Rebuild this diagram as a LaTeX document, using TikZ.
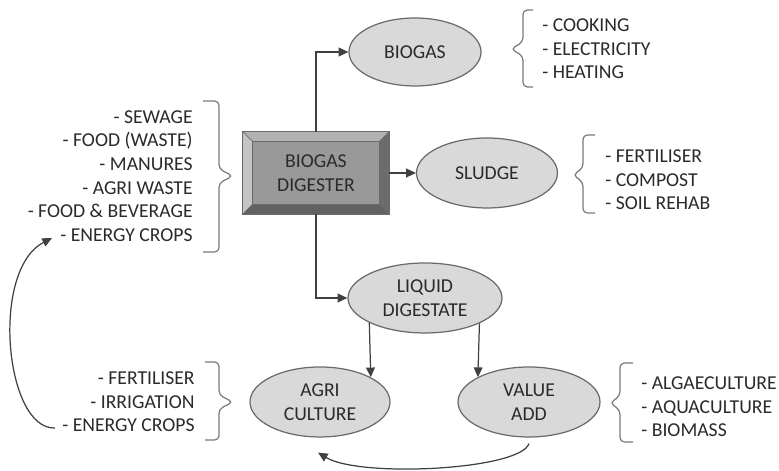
\documentclass[tikz,border=0pt]{standalone}
\usepackage{fontspec}
\setmainfont{Carlito}
\usetikzlibrary{arrows.meta,calc,shapes.geometric}
\definecolor{txtgrey}{HTML}{2A2A2A}
\definecolor{blobgrey}{HTML}{D9D9D9}
\definecolor{edgegrey}{HTML}{6A6A6A}
\definecolor{linegrey}{HTML}{404040}
\definecolor{bracegrey}{HTML}{7A7A7A}
\definecolor{facegrey}{HTML}{999999}
\definecolor{toplight}{HTML}{B2B2B2}
\definecolor{leftlight}{HTML}{C4C4C4}
\definecolor{rightdark}{HTML}{6C6C6C}
\definecolor{bottomdark}{HTML}{626262}
\begin{document}
\begin{tikzpicture}[
        font=\fontsize{11.2}{13.4}\selectfont, text=txtgrey,
        blob/.style={ellipse, draw=edgegrey, fill=blobgrey, line width=0.7pt, inner sep=0pt, align=center},
        arr/.style={draw=linegrey, line width=0.7pt, -{Triangle[length=5.5pt,width=5pt]}},
        bracket/.style={draw=bracegrey, line width=0.7pt, rounded corners=2.5pt},
        list/.style={inner sep=0pt}]
        \useasboundingbox (0, 0) rectangle (15.58, 9.42);

        % digester box
        \node [rectangle, fill=facegrey, minimum width=2.92cm, minimum height=1.64cm, align=center] at (6.32, 5.96) (digester) {BIOGAS\\DIGESTER};
        \fill [toplight] (digester.north west) -- (digester.north east) -- ($(digester.north east)+(-0.2,-0.2)$) -- ($(digester.north west)+(0.2,-0.2)$) -- cycle;
        \fill [leftlight] (digester.north west) -- ($(digester.north west)+(0.2,-0.2)$) -- ($(digester.south west)+(0.2,0.2)$) -- (digester.south west) -- cycle;
        \fill [rightdark] (digester.north east) -- ($(digester.north east)+(-0.2,-0.2)$) -- ($(digester.south east)+(-0.2,0.2)$) -- (digester.south east) -- cycle;
        \fill [bottomdark] (digester.south west) -- ($(digester.south west)+(0.2,0.2)$) -- ($(digester.south east)+(-0.2,0.2)$) -- (digester.south east) -- cycle;
        \draw [edgegrey, line width=0.6pt] (digester.north west) rectangle (digester.south east);
        \draw [edgegrey, line width=0.4pt] ($(digester.north west)+(0.2,-0.2)$) rectangle ($(digester.south east)+(-0.2,0.2)$);
        \draw [edgegrey, line width=0.4pt] (digester.north west) -- ++(0.2,-0.2) (digester.north east) -- ++(-0.2,-0.2)
                (digester.south west) -- ++(0.2,0.2) (digester.south east) -- ++(-0.2,0.2);

        % products
        \node [blob, minimum width=2.64cm, minimum height=1.36cm] at (8.30, 8.38) (biogas) {BIOGAS};
        \node [blob, minimum width=2.82cm, minimum height=1.40cm] at (9.74, 5.96) (sludge) {SLUDGE};
        \node [blob, minimum width=3.08cm, minimum height=1.40cm] at (8.50, 3.46) (liquid) {LIQUID\\DIGESTATE};
        \node [blob, minimum width=2.80cm, minimum height=1.40cm] at (6.40, 1.38) (agri) {AGRI\\CULTURE};
        \node [blob, minimum width=2.84cm, minimum height=1.40cm] at (10.58, 1.38) (value) {VALUE\\ADD};

        % lists
        \node [list, anchor=east, align=right] at (3.86, 5.90) (feed) {- SEWAGE\\- FOOD (WASTE)\\- MANURES\\- AGRI WASTE\\- FOOD \& BEVERAGE\\- ENERGY CROPS};
        \node [list, anchor=east, align=right] at (3.90, 1.38) (agriuse) {- FERTILISER\\- IRRIGATION\\- ENERGY CROPS};
        \node [list, anchor=west, align=left] at (10.84, 8.44) (gasuse) {- COOKING\\- ELECTRICITY\\- HEATING};
        \node [list, anchor=west, align=left] at (12.10, 5.82) (sludgeuse) {- FERTILISER\\- COMPOST\\- SOIL REHAB};
        \node [list, anchor=west, align=left] at (12.82, 1.28) (valueuse) {- ALGAECULTURE\\- AQUACULTURE\\- BIOMASS};

        % brackets
        \draw [bracket] (4.06, 7.40) -- (4.38, 7.40) -- (4.38, 6.04) -- (4.66, 5.90) -- (4.38, 5.76) -- (4.38, 4.38) -- (4.06, 4.38);
        \draw [bracket] (4.10, 2.18) -- (4.38, 2.18) -- (4.38, 1.52) -- (4.66, 1.38) -- (4.38, 1.24) -- (4.38, 0.62) -- (4.10, 0.62);
        \draw [bracket] (10.66, 9.22) -- (10.46, 9.22) -- (10.46, 8.58) -- (10.22, 8.44) -- (10.46, 8.30) -- (10.46, 7.68) -- (10.66, 7.68);
        \draw [bracket] (11.90, 6.72) -- (11.66, 6.72) -- (11.66, 6.06) -- (11.46, 5.92) -- (11.66, 5.78) -- (11.66, 5.16) -- (11.90, 5.16);
        \draw [bracket] (12.66, 2.16) -- (12.40, 2.16) -- (12.40, 1.50) -- (12.20, 1.36) -- (12.40, 1.22) -- (12.40, 0.58) -- (12.66, 0.58);

        % flows
        \draw [arr] (digester.north) |- (biogas.west);
        \draw [arr] (digester.east) -- (sludge.west);
        \draw [arr] (digester.south) |- (liquid.west);
        \draw [arr] (liquid.204) -- (agri.26);
        \draw [arr] (liquid.335) -- (value.154);
        \draw [arr] ([yshift=-0.12cm]value.south) .. controls (10.40, 0.02) and (7.20, -0.14) .. ([xshift=-0.04cm, yshift=-0.30cm]agri.south);
        \coordinate (cropsout) at (1.10, 0.86);
        \coordinate (cropsin) at (1.04, 4.66);
        \draw [arr] (cropsout) .. controls (0.10, 0.82) and (-0.20, 4.02) .. (cropsin);
\end{tikzpicture}
\end{document}
